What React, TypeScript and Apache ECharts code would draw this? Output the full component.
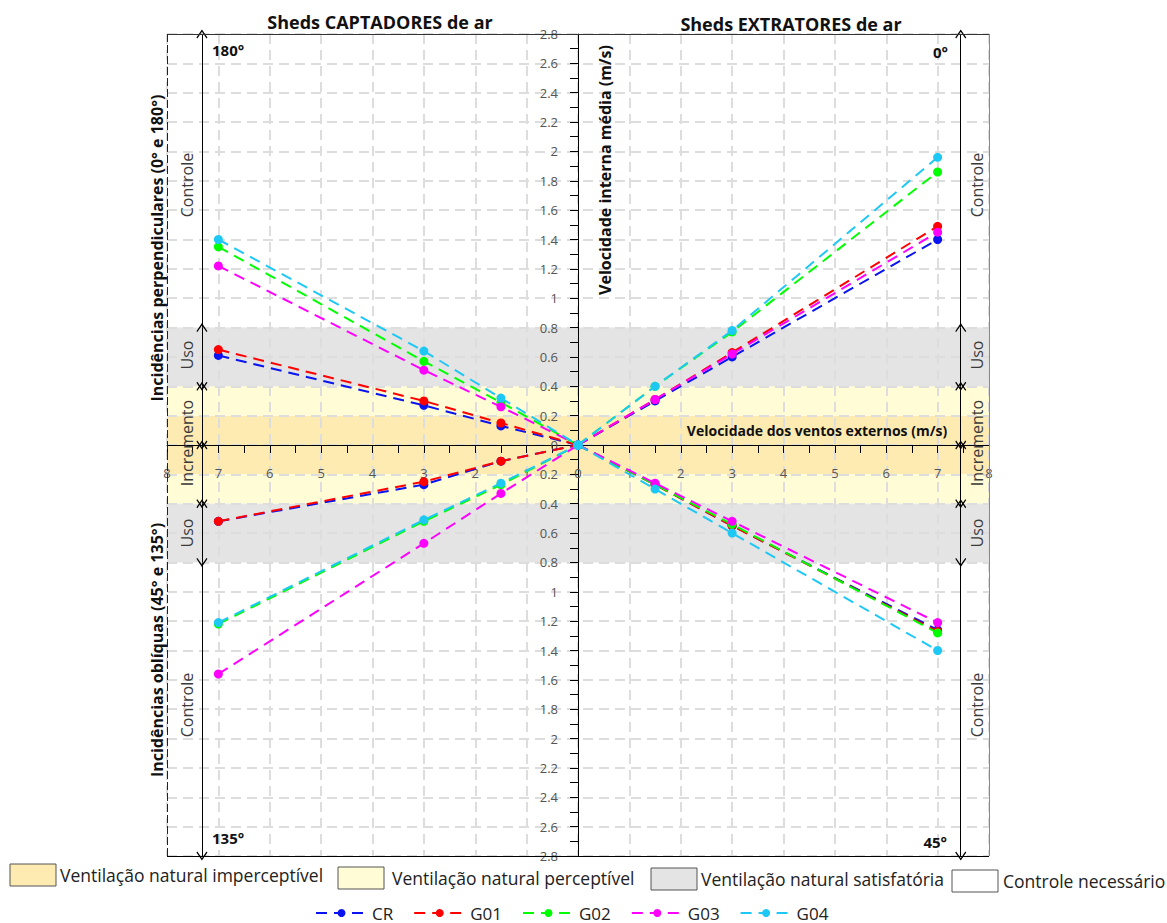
import React, { useEffect, useRef } from "react";
import * as echarts from "echarts";

const groups = ["CR", "G01", "G02", "G03", "G04"];
const groupColors = ["#0A14F0", "#FF0000", "#00FF00", "#FF00FF", "#1EC8F5"];

// x positions (wind speed, m/s); left half = captadores (negative side), right = extratores
const xCaptadores = [-7, -3, -1.5, 0];
const xExtratores = [0, 1.5, 3, 7];

// 180° (upper-left)
const v180: Record<string, number[]> = {
  CR: [0.61, 0.27, 0.13, 0],
  G01: [0.65, 0.30, 0.15, 0],
  G02: [1.35, 0.57, 0.29, 0],
  G03: [1.22, 0.51, 0.26, 0],
  G04: [1.40, 0.64, 0.32, 0],
};
// 135° (lower-left)
const v135: Record<string, number[]> = {
  CR: [-0.52, -0.27, -0.11, 0],
  G01: [-0.52, -0.25, -0.11, 0],
  G02: [-1.22, -0.52, -0.27, 0],
  G03: [-1.56, -0.67, -0.33, 0],
  G04: [-1.21, -0.51, -0.26, 0],
};
// 0° (upper-right)
const v0: Record<string, number[]> = {
  CR: [0, 0.30, 0.60, 1.40],
  G01: [0, 0.31, 0.63, 1.49],
  G02: [0, 0.40, 0.77, 1.86],
  G03: [0, 0.31, 0.62, 1.45],
  G04: [0, 0.40, 0.78, 1.96],
};
// 45° (lower-right)
const v45: Record<string, number[]> = {
  CR: [0, -0.27, -0.55, -1.26],
  G01: [0, -0.27, -0.55, -1.27],
  G02: [0, -0.27, -0.54, -1.28],
  G03: [0, -0.26, -0.52, -1.21],
  G04: [0, -0.30, -0.60, -1.40],
};

// comfort bands (y ranges)
const bandImperceptivel = [[-0.2, 0.2]];
const bandPerceptivel = [[0.2, 0.4], [-0.4, -0.2]];
const bandSatisfatoria = [[0.4, 0.8], [-0.8, -0.4]];
const bandColors = { imperceptivel: "#FDEBB1", perceptivel: "#FFFCD6", satisfatoria: "#E4E4E4" };

// annotation scale positions (x)
const annotX = [-7.32, 7.45];
const annotSegments = [
  [0.8, 2.8, "none", "chev"],
  [0.4, 0.8, "chev", "chev"],
  [0, 0.4, "chev", "chev"],
  [-0.4, 0, "chev", "chev"],
  [-0.8, -0.4, "chev", "chev"],
  [-2.8, -0.8, "chev", "none"],
];

const legendAreas = [
  "Ventilação natural imperceptível",
  "Ventilação natural perceptível",
  "Ventilação natural satisfatória",
  "Controle necessário",
];

const FONT = "'Open Sans', sans-serif";
const CHEVRON = "path://M0,0 L6,9 L5,10 L0,2.6 L-5,10 L-6,9 Z";

export default function App() {
  const ref = useRef<HTMLDivElement>(null);
  useEffect(() => {
    if (!ref.current) return;
    const chart = echarts.init(ref.current, undefined, { renderer: "svg" });

    const series: any[] = [];

    const bandData = (ranges: number[][], color: string) =>
      ranges.map((r) => [
        { xAxis: -8, yAxis: r[0], itemStyle: { color } },
        { xAxis: 8, yAxis: r[1] },
      ]);

    series.push({
      type: "line",
      name: "bands",
      data: [],
      z: 1,
      silent: true,
      markArea: {
        silent: true,
        data: [
          ...bandData(bandImperceptivel, bandColors.imperceptivel),
          ...bandData(bandPerceptivel, bandColors.perceptivel),
          ...bandData(bandSatisfatoria, bandColors.satisfatoria),
        ],
      },
    });

    const mlData: any[] = [];
    annotX.forEach((xa) => {
      annotSegments.forEach((s) => {
        mlData.push([
          { coord: [xa, s[0]], symbol: s[2] === "chev" ? CHEVRON : "none" },
          { coord: [xa, s[1]], symbol: s[3] === "chev" ? CHEVRON : "none" },
        ]);
      });
    });
    // plot frame
    const frame = [
      [[-8, 2.8], [8, 2.8], "#333", "solid"],
      [[8, 2.8], [8, -2.8], "#888", "solid"],
      [[-8, -2.8], [8, -2.8], "#000", "solid"],
      [[-8, 2.8], [-8, -2.8], "#222", [8, 3]],
    ];
    frame.forEach((f) => {
      mlData.push([
        { coord: f[0], symbol: "none", lineStyle: { color: f[2], type: f[3], width: 1 } },
        { coord: f[1], symbol: "none" },
      ]);
    });
    series.push({
      type: "line",
      name: "annot",
      data: [],
      z: 5,
      silent: true,
      markLine: {
        silent: true,
        animation: false,
        symbolSize: [11, 9],
        label: { show: false },
        lineStyle: { color: "#000", width: 1, type: "solid" },
        emphasis: { disabled: true },
        data: mlData,
      },
    });

    groups.forEach((g, gi) => {
      const quadrants = [
        [xCaptadores, v180[g]],
        [xCaptadores, v135[g]],
        [xExtratores, v0[g]],
        [xExtratores, v45[g]],
      ];
      quadrants.forEach((q) => {
        series.push({
          type: "line",
          name: g,
          data: (q[0] as number[]).map((x, i) => [x, (q[1] as number[])[i]]),
          symbol: "circle",
          symbolSize: 9,
          showAllSymbol: true,
          itemStyle: { color: groupColors[gi] },
          lineStyle: { color: groupColors[gi], width: 2, type: [11, 7] },
          z: 10 + gi,
        });
      });
    });

    const absFmt = (v: number) => String(Math.abs(Math.round(v * 10) / 10));

    const gtext = (x: number, y: number, text: string, opts: any = {}) => ({
      type: "text",
      x,
      y,
      rotation: opts.rotation || 0,
      z: 100,
      style: {
        text,
        font: `${opts.weight || "normal"} ${opts.size || 16}px ${FONT}`,
        fill: opts.color || "#111",
        align: opts.align || "center",
        verticalAlign: "middle",
      },
    });

    const graphics: any[] = [];
    graphics.push(gtext(380, 22, "Sheds CAPTADORES de ar", { weight: "bold", size: 18 }));
    graphics.push(gtext(791, 24, "Sheds EXTRATORES de ar", { weight: "bold", size: 18 }));
    graphics.push(gtext(605, 170, "Velocidade interna média (m/s)", { weight: "bold", size: 16, rotation: Math.PI / 2 }));
    graphics.push(gtext(157, 248, "Incidências perpendiculares (0° e 180°)", { weight: "bold", size: 16, rotation: Math.PI / 2 }));
    graphics.push(gtext(157, 650, "Incidências oblíquas (45° e 135°)", { weight: "bold", size: 16, rotation: Math.PI / 2 }));
    graphics.push(gtext(817, 430, "Velocidade dos ventos externos (m/s)", { weight: "bold", size: 14 }));
    graphics.push(gtext(212, 50, "180°", { weight: "bold", size: 15, align: "left" }));
    graphics.push(gtext(948, 52, "0°", { weight: "bold", size: 15, align: "right" }));
    graphics.push(gtext(212, 838, "135°", { weight: "bold", size: 15, align: "left" }));
    graphics.push(gtext(947, 842, "45°", { weight: "bold", size: 15, align: "right" }));

    const sideLabels: [number, string][] = [
      [185, "Controle"],
      [355, "Uso"],
      [443, "Incremento"],
      [533, "Uso"],
      [705, "Controle"],
    ];
    [187, 977].forEach((xc) => {
      sideLabels.forEach(([yc, t]) => {
        graphics.push(gtext(xc, yc, t, { size: 16, color: "#3a3a3a", rotation: Math.PI / 2 }));
      });
    });

    const swatches = [
      { x: 10, y: 864, fill: bandColors.imperceptivel, tx: 60 },
      { x: 338, y: 867, fill: bandColors.perceptivel, tx: 392 },
      { x: 651, y: 868, fill: bandColors.satisfatoria, tx: 701 },
      { x: 952, y: 870, fill: "#FFFFFF", tx: 1003 },
    ];
    swatches.forEach((s, i) => {
      graphics.push({
        type: "rect",
        shape: { x: s.x, y: s.y, width: 46, height: 22 },
        style: { fill: s.fill, stroke: "#555", lineWidth: 1 },
        z: 100,
      });
      graphics.push(gtext(s.tx, s.y + 11, legendAreas[i], { size: 17.5, color: "#222", align: "left" }));
    });

    chart.setOption({
      animation: false,
      textStyle: { fontFamily: FONT },
      grid: {
        left: 167,
        top: 34,
        width: 822,
        height: 822,
        show: false,
      },
      legend: {
        data: groups,
        left: 315,
        top: 903,
        itemWidth: 51,
        itemHeight: 10,
        itemGap: 20,
        padding: 0,
        textStyle: { fontSize: 17, lineHeight: 20, color: "#222", fontFamily: FONT },
      },
      xAxis: {
        type: "value",
        min: -8,
        max: 8,
        interval: 1,
        position: "bottom",
        offset: -411,
        z: 3,
        axisLine: { onZero: false, lineStyle: { color: "#000", width: 1 } },
        axisTick: { show: true, length: 8, lineStyle: { color: "#000" } },
        minorTick: { show: true, splitNumber: 2, length: 8, lineStyle: { color: "#000" } },
        axisLabel: { formatter: absFmt, margin: 21, fontSize: 13, color: "#555" },
        splitLine: { show: true, lineStyle: { color: "#DDDDDD", width: 2, type: [10, 6] } },
      },
      yAxis: {
        type: "value",
        min: -2.8,
        max: 2.8,
        interval: 0.2,
        position: "left",
        offset: -411,
        z: 3,
        axisLine: { onZero: false, lineStyle: { color: "#000", width: 1 } },
        axisTick: { show: true, length: 8, lineStyle: { color: "#000" } },
        minorTick: { show: true, splitNumber: 2, length: 8, lineStyle: { color: "#000" } },
        axisLabel: { formatter: absFmt, margin: 20, fontSize: 13, color: "#555" },
        splitLine: { show: true, lineStyle: { color: "#DDDDDD", width: 2, type: [10, 6] } },
      },
      graphic: graphics,
      series,
    });

    return () => chart.dispose();
  }, []);

  return (
    <div
      ref={ref}
      style={{ position: "fixed", left: 0, top: 0, width: 1167, height: 923, background: "#fff" }}
    />
  );
}
